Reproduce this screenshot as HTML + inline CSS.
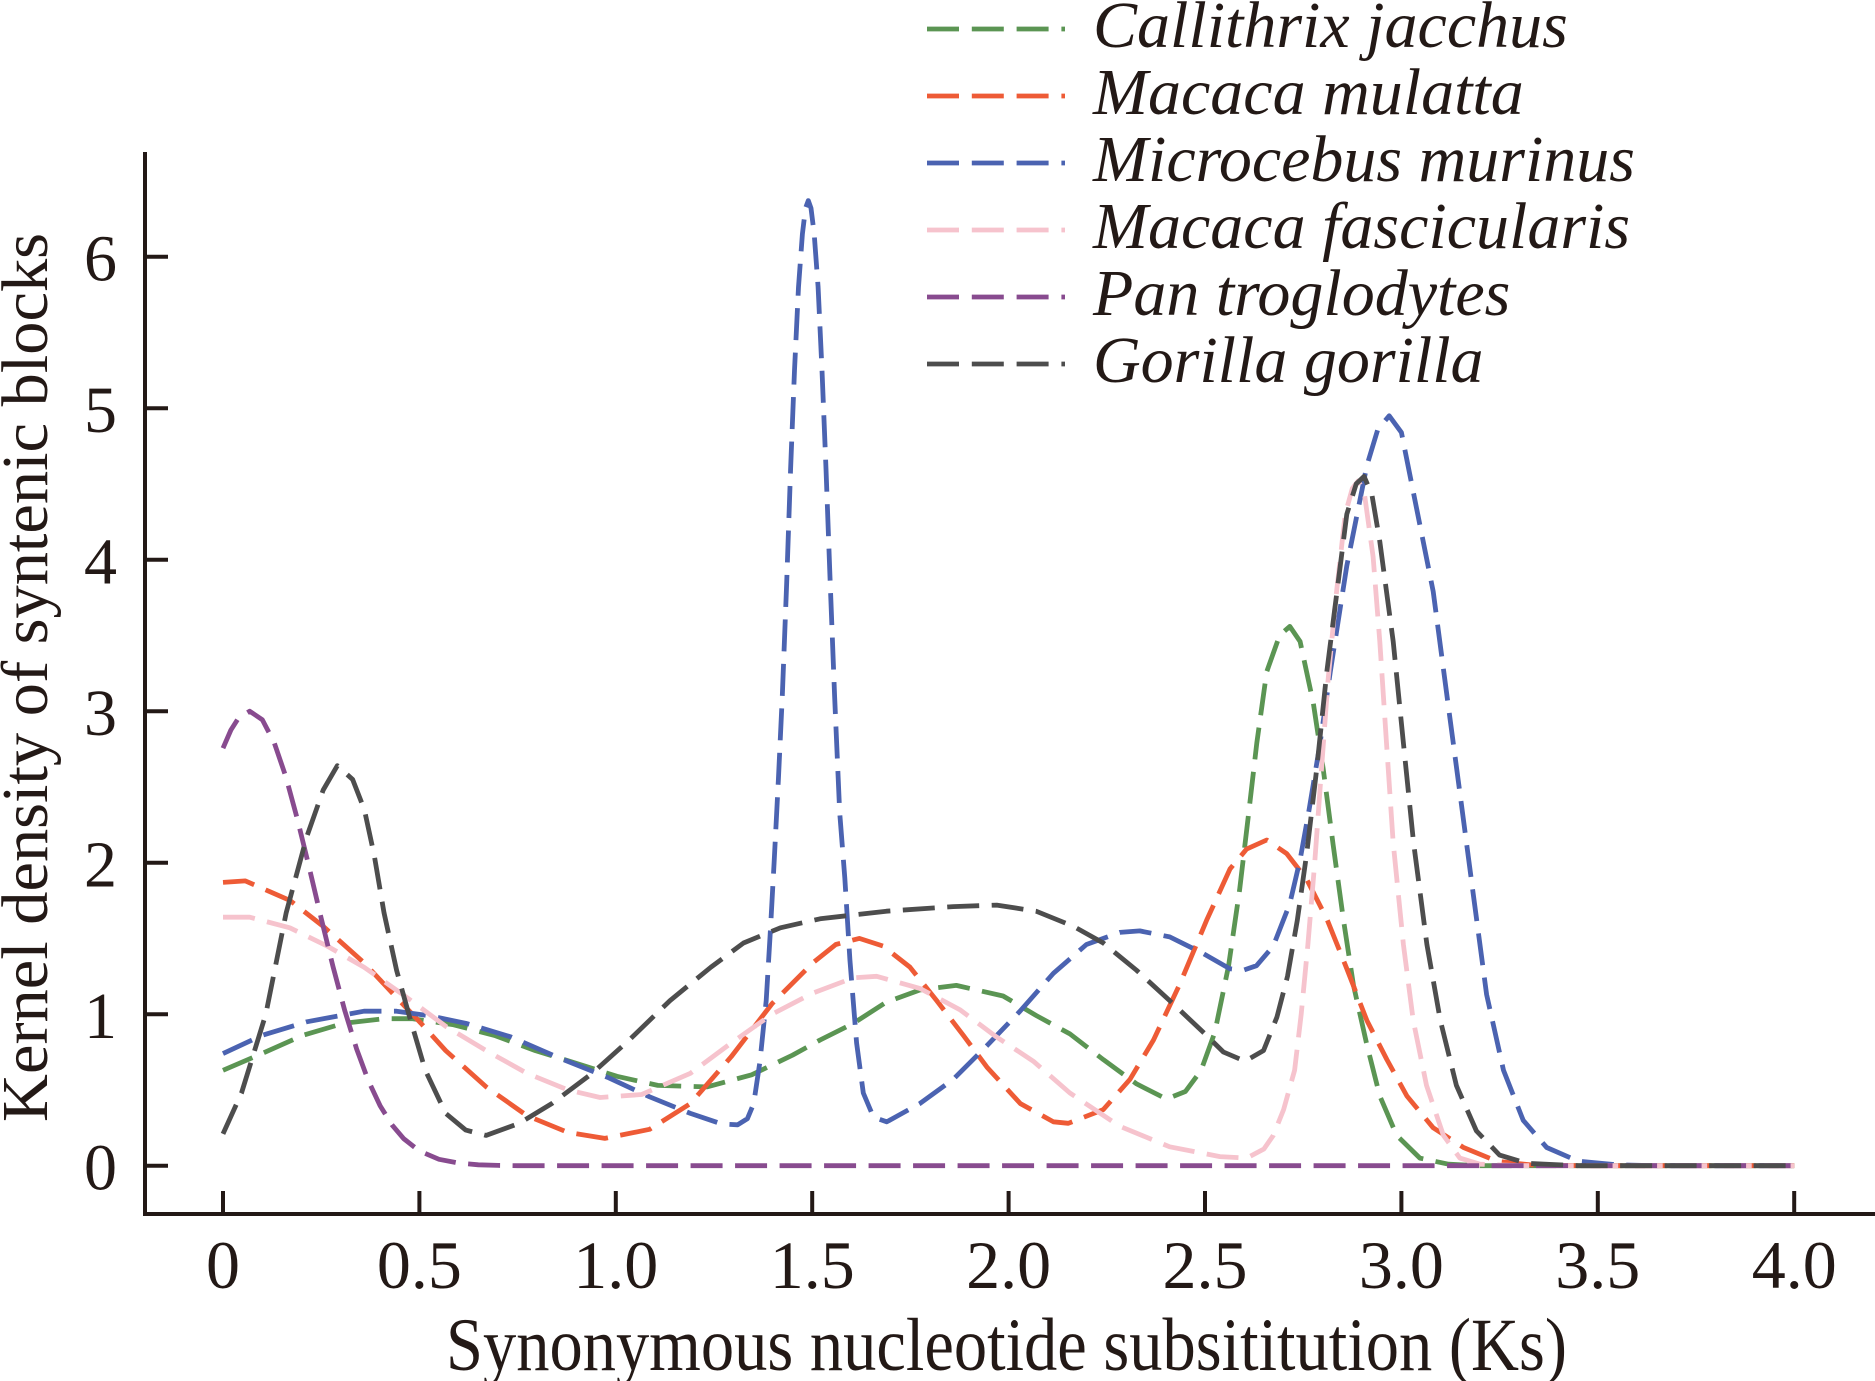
<!DOCTYPE html>
<html>
<head>
<meta charset="utf-8">
<style>
  html,body{margin:0;padding:0;background:#fff;}
  svg{display:block;}
  text{font-family:"Liberation Serif","Times New Roman",serif;fill:#231916;}
</style>
</head>
<body>
<svg width="1875" height="1381" viewBox="0 0 1875 1381" xmlns="http://www.w3.org/2000/svg">
  <rect x="0" y="0" width="1875" height="1381" fill="#ffffff"/>

  <!-- axes -->
  <g stroke="#231916" stroke-width="4" fill="none">
    <line x1="145" y1="152" x2="145" y2="1216"/>
    <line x1="143" y1="1214" x2="1875" y2="1214"/>
    <line x1="145" y1="1165.7" x2="168" y2="1165.7"/>
    <line x1="145" y1="1014.2" x2="168" y2="1014.2"/>
    <line x1="145" y1="862.7" x2="168" y2="862.7"/>
    <line x1="145" y1="711.2" x2="168" y2="711.2"/>
    <line x1="145" y1="559.7" x2="168" y2="559.7"/>
    <line x1="145" y1="408.2" x2="168" y2="408.2"/>
    <line x1="145" y1="256.7" x2="168" y2="256.7"/>
    <line x1="223" y1="1191" x2="223" y2="1214"/>
    <line x1="419.4" y1="1191" x2="419.4" y2="1214"/>
    <line x1="615.8" y1="1191" x2="615.8" y2="1214"/>
    <line x1="812.2" y1="1191" x2="812.2" y2="1214"/>
    <line x1="1008.6" y1="1191" x2="1008.6" y2="1214"/>
    <line x1="1205" y1="1191" x2="1205" y2="1214"/>
    <line x1="1401.4" y1="1191" x2="1401.4" y2="1214"/>
    <line x1="1597.8" y1="1191" x2="1597.8" y2="1214"/>
    <line x1="1794.2" y1="1191" x2="1794.2" y2="1214"/>
  </g>

  <!-- y tick labels -->
  <g font-size="66" text-anchor="end">
    <text x="117" y="1189.7">0</text>
    <text x="117" y="1038.2">1</text>
    <text x="117" y="886.7">2</text>
    <text x="117" y="735.2">3</text>
    <text x="117" y="583.7">4</text>
    <text x="117" y="432.2">5</text>
    <text x="117" y="280.7">6</text>
  </g>

  <!-- x tick labels -->
  <g font-size="68" text-anchor="middle">
    <text x="223" y="1288">0</text>
    <text x="419.4" y="1288">0.5</text>
    <text x="615.8" y="1288">1.0</text>
    <text x="812.2" y="1288">1.5</text>
    <text x="1008.6" y="1288">2.0</text>
    <text x="1205" y="1288">2.5</text>
    <text x="1401.4" y="1288">3.0</text>
    <text x="1597.8" y="1288">3.5</text>
    <text x="1794.2" y="1288">4.0</text>
  </g>

  <!-- axis titles -->
  <text x="1006.5" y="1370" font-size="75" text-anchor="middle" textLength="1121" lengthAdjust="spacingAndGlyphs">Synonymous nucleotide subsititution (Ks)</text>
  <text transform="translate(47,677.5) rotate(-90)" x="0" y="0" font-size="66" text-anchor="middle" textLength="889" lengthAdjust="spacingAndGlyphs">Kernel density of syntenic blocks</text>

  <!-- curves -->
  <g fill="none" stroke-width="4.8" stroke-dasharray="32 12.5" stroke-linecap="butt" stroke-linejoin="round">
    <!-- Callithrix jacchus (green) -->
    <polyline stroke="#5b9553" points="223,1070.3 261.9,1053.6 302.7,1035.4 343.6,1023.3 384,1018.7 412.7,1018.7 453.6,1024.8 494.4,1035.4 535.3,1050.6 576.5,1063.4 617,1076.3 657.8,1085.4 706.9,1086.9 751.7,1074.8 792.6,1055.1 820.1,1040 853.4,1023.3 886.4,1002.1 919.8,990 956.3,985.4 1003.1,996 1036.5,1015.7 1069.9,1033.9 1103.3,1059.6 1136.6,1083.9 1166.5,1099 1185.4,1091.5 1201.1,1070.3 1214.8,1032.4 1228.6,965.7 1239.6,890 1248.2,817.2 1256.8,743 1266.7,671.8 1279.6,635.4 1289.8,626.4 1300.1,641.5 1313.4,703.6 1323.2,768.8 1333.1,844.5 1343.3,918.8 1353.5,985.4 1366.8,1044.5 1379.8,1096 1396.7,1135.4 1419.9,1158.1 1448.5,1164.2 1480,1165.7 1794.2,1165.7"/>
    <!-- Macaca mulatta (orange) -->
    <polyline stroke="#ee5b36" points="223,882.4 245.4,880.9 290.2,900.6 323.2,926.3 364,962.7 392.3,993 421,1023.3 445.7,1050.6 486.2,1086.9 527,1115.7 567.9,1132.4 604.8,1138.4 649.6,1129.3 690.4,1103.6 731.3,1056.6 772.1,1003.6 813,962.7 835.8,944.5 859.3,938.4 882.9,946 910,967.2 936.7,1000.6 963.4,1035.4 987,1067.2 1020.4,1103.6 1053.4,1121.8 1068.3,1123.3 1103.3,1109.6 1130,1079.3 1153.5,1040 1179.9,983.9 1206.6,920.3 1230.1,868.8 1246.6,849.1 1266.7,840 1286.7,853.6 1306.7,879.4 1326.8,918.8 1346.8,968.7 1366.8,1020.3 1386.9,1059.6 1406.9,1096 1433.2,1127.8 1463.5,1147.5 1496.9,1161.2 1531,1164.9 1578.2,1165.7 1794.2,1165.7"/>
    <!-- Microcebus murinus (blue) -->
    <polyline stroke="#4b63b1" points="223,1053.6 261.9,1035.4 306.7,1021.8 364,1011.2 396.6,1011.2 429.2,1015.7 465.8,1023.3 510.9,1036.9 559.6,1058.1 608.7,1077.8 649.6,1096.8 690.4,1113.4 721.9,1124 737.6,1124.8 747.4,1118.7 753.7,1103.6 760,1061.2 766.2,1000.6 770.2,933.9 774.1,862.7 778.4,779.4 782.3,696 786.7,582.4 790.6,468.8 794.5,370.3 798.5,287 802.4,234 805.5,208.2 808.3,200.6 811,208.2 814.2,234 818.1,287 822,370.3 826,468.8 829.9,574.8 834.6,696 839.7,812.7 844.8,877.8 849.9,959.7 856.6,1043 863.3,1093 873.5,1117.2 886.8,1121.8 919.8,1103.6 953.2,1079.3 986.6,1046 1020,1011.2 1053.4,973.3 1086.4,944.5 1119.8,932.4 1139.8,930.9 1169.7,936.9 1203.4,953.6 1229.7,968.7 1243.1,970.3 1256.5,965.7 1273.3,946 1289.8,903.6 1300.1,859.7 1309.1,809.7 1320.1,743 1330.3,671.8 1346.8,565.8 1366.8,465.8 1377.8,429.4 1389.2,415.8 1401.4,432.4 1413.2,491.5 1433.2,591.5 1446.6,693 1459.9,793 1473.3,894.5 1486.6,994.5 1503.5,1070.3 1523.2,1120.3 1546.7,1147.5 1578.2,1161.2 1617.4,1164.9 1656.7,1165.7 1794.2,1165.7"/>
    <!-- Macaca fascicularis (pink) -->
    <polyline stroke="#f6c3cd" points="223,917.2 249.7,917.2 289.8,927.8 327.1,946 364,967.2 404.9,996 445.7,1026.3 486.2,1050.6 527,1073.3 567.9,1089.9 600.1,1097.5 641.7,1094.5 690.4,1073.3 731.3,1043 772.1,1014.2 813,993 853.4,977.8 876.6,976.3 919.8,988.4 959.9,1009.7 996.4,1036.9 1033.3,1061.2 1069.9,1093 1119.8,1126.3 1169.7,1146.8 1219.9,1156.6 1246.6,1158.1 1263.9,1149 1273.3,1135.4 1283.6,1109.6 1294.6,1070.3 1301.2,1014.2 1307.9,944.5 1314.6,864.2 1321.3,771.8 1328,680.9 1335.4,602.1 1345.2,514.2 1352.3,488.5 1358.2,480.9 1364.1,491.5 1373.1,556.7 1379.8,641.5 1386.5,743 1393.2,843 1403.4,944.5 1413.2,1020.3 1426.5,1085.4 1443.4,1135.4 1459.9,1158.1 1479.9,1164.2 1519.2,1165.7 1794.2,1165.7"/>
    <!-- Pan troglodytes (purple) -->
    <polyline stroke="#884b8f" points="223,748.2 230.9,730 238.7,717.7 249.7,711.2 262.3,719.7 274.1,742.3 285.8,776.6 297.6,820 309.4,868.3 321.2,918.3 333,966.6 344.8,1010.7 356.6,1048.9 368.3,1080.6 380.1,1105.7 391.9,1124.8 403.7,1138.7 419.4,1151 439,1159.3 458.7,1163.1 478.3,1164.8 498,1165.4 517.6,1165.7 1794.2,1165.7"/>
    <!-- Gorilla gorilla (gray) -->
    <polyline stroke="#4d4d4d" points="223,1133.9 241.5,1093 265.8,1014.2 286.2,912.7 306.7,836.9 323.2,790 337.3,765.7 352.6,779.4 364.4,809.7 374.2,855.1 384,912.7 396.6,970.3 408.8,1014.2 425.3,1070.3 445.7,1113.4 465.8,1130.1 486.2,1135.4 519.2,1123.3 551.8,1103.6 592.2,1073.3 629.2,1040 670,1000.6 710.9,967.2 743.5,943 780.4,927.8 820.1,918.8 886.4,911.2 953.2,906.6 996.8,905.1 1036.1,911.2 1073.4,926.3 1103.3,943 1136.6,970.3 1169.7,1000.6 1203.4,1032.4 1223.5,1052.1 1245.1,1061.2 1263.5,1050.6 1276.9,1017.2 1287.5,976.3 1297.3,920.3 1306.7,853.6 1316.9,767.3 1326.8,671.8 1337,591.5 1346.8,514.2 1356.2,483.9 1364.1,476.4 1371.9,494.6 1379.8,541.5 1393.2,641.5 1403.4,743 1413.6,843 1426.9,944.5 1440.3,1020.3 1456.4,1085.4 1476.4,1130.9 1499.6,1155.1 1527.1,1163.4 1578.2,1165.7 1794.2,1165.7"/>
  </g>

  <!-- legend -->
  <g stroke-width="4.8" stroke-dasharray="32 12.8" fill="none">
    <line x1="927" y1="29" x2="1065" y2="29" stroke="#5b9553"/>
    <line x1="927" y1="96" x2="1065" y2="96" stroke="#ee5b36"/>
    <line x1="927" y1="163" x2="1065" y2="163" stroke="#4b63b1"/>
    <line x1="927" y1="230" x2="1065" y2="230" stroke="#f6c3cd"/>
    <line x1="927" y1="297" x2="1065" y2="297" stroke="#884b8f"/>
    <line x1="927" y1="364" x2="1065" y2="364" stroke="#4d4d4d"/>
  </g>
  <g font-size="66" font-style="italic">
    <text x="1093" y="47">Callithrix jacchus</text>
    <text x="1093" y="114">Macaca mulatta</text>
    <text x="1093" y="181">Microcebus murinus</text>
    <text x="1093" y="248">Macaca fascicularis</text>
    <text x="1093" y="315">Pan troglodytes</text>
    <text x="1093" y="382">Gorilla gorilla</text>
  </g>
</svg>
</body>
</html>
